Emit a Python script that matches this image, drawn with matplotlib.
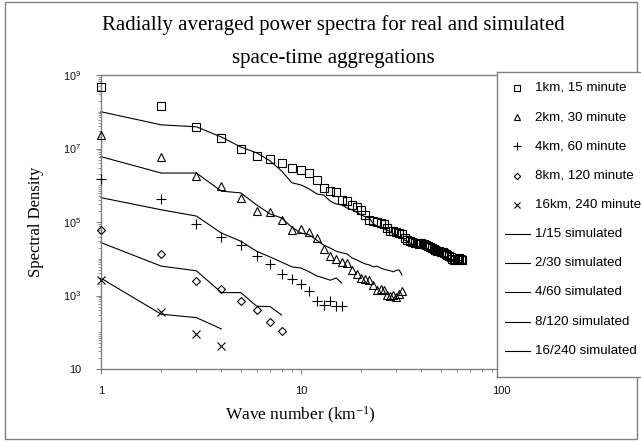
import matplotlib
matplotlib.use('Agg')
import matplotlib.pyplot as plt
from matplotlib.ticker import LogLocator, FixedLocator, FixedFormatter, NullFormatter
from matplotlib.patches import Rectangle

# ---------------- data ----------------
k_1km = list(range(1, 65))
k_2km = list(range(1, 33))
k_4km = list(range(1, 17))
k_8km = list(range(1, 9))
k_16km = list(range(1, 5))

real_1km = [4.7e8, 1.45e8, 3.9e7, 1.95e7, 1.0e7, 6.3e6, 5.1e6, 4.1e6, 2.95e6, 2.6e6,
            2.15e6, 1.38e6, 8.5e5, 6.9e5, 6.6e5, 4.0e5, 3.7e5, 2.9e5, 2.6e5, 2.15e5,
            1.55e5, 1.12e5, 1.07e5, 1.0e5, 9.3e4, 8.9e4, 6.9e4, 5.8e4, 5.8e4, 5.4e4,
            5.0e4, 4.8e4, 3.7e4, 3.2e4, 3.1e4, 2.9e4, 2.7e4, 2.7e4, 2.5e4, 2.7e4,
            2.5e4, 2.35e4, 2.25e4, 2.1e4, 1.95e4, 1.85e4, 1.75e4, 1.6e4, 1.6e4, 1.5e4,
            1.5e4, 1.45e4, 1.35e4, 1.25e4, 1.17e4, 1.12e4, 9.8e3, 9.3e3, 9.8e3, 9.3e3,
            9.8e3, 1.05e4, 1.0e4, 9.5e3]
sim_1km = [1.0e8, 4.4e7, 3.9e7, 2.05e7, 1.1e7, 7.6e6, 4.6e6, 2.45e6, 1.17e6, 1.02e6,
           7.9e5, 5.8e5, 5.4e5, 3.7e5, 3.1e5, 2.9e5, 2.4e5, 2.15e5, 1.85e5, 1.55e5,
           1.38e5, 1.29e5, 8.9e4, 7.8e4, 6.9e4, 6.5e4, 6.0e4, 5.4e4, 4.7e4, 4.5e4,
           3.9e4, 3.7e4, 3.2e4, 3.0e4, 2.7e4, 2.5e4, 2.35e4, 2.25e4, 2.1e4, 2.1e4,
           1.95e4, 1.85e4, 1.75e4, 1.6e4, 1.5e4, 1.5e4, 1.45e4, 1.35e4, 1.25e4, 1.25e4,
           1.17e4, 1.12e4, 1.12e4, 1.05e4, 1.0e4, 9.8e3, 9.5e3, 9.3e3, 9.3e3, 9.0e3,
           9.0e3, 9.0e3, 8.8e3, 8.6e3]

real_2km = [2.35e7, 5.9e6, 1.78e6, 9.5e5, 4.5e5, 2.0e5, 1.86e5, 1.12e5, 6.0e4, 6.5e4,
            5.4e4, 3.6e4, 1.86e4, 1.17e4, 9.8e3, 8.1e3, 7.6e3, 4.9e3, 3.9e3, 3.0e3,
            2.8e3, 2.6e3, 1.95e3, 1.41e3, 1.51e3, 1.41e3, 1.02e3, 9.8e2, 1.02e3, 9.1e2,
            1.1e3, 1.32e3]
sim_2km = [6.0e6, 2.15e6, 2.15e6, 6.9e5, 6.2e5, 2.9e5, 1.66e5, 1.29e5, 7.2e4, 5.0e4,
           4.5e4, 3.2e4, 2.35e4, 1.95e4, 1.6e4, 1.45e4, 1.35e4, 1.05e4, 9.3e3, 8.1e3,
           7.2e3, 6.8e3, 6.0e3, 6.3e3, 5.6e3, 5.2e3, 4.9e3, 4.7e3, 4.4e3, 4.9e3,
           4.9e3, 3.6e3]

real_4km = [1.48e6, 4.3e5, 9.1e4, 4.0e4, 2.3e4, 1.17e4, 7.1e3, 3.8e3, 2.8e3, 2.0e3,
            1.32e3, 7.2e2, 5.4e2, 7.2e2, 5.1e2, 5.1e2]
sim_4km = [4.6e5, 2.15e5, 1.45e5, 5.0e4, 3.0e4, 1.6e4, 1.12e4, 8.1e3, 6.0e3, 5.6e3,
           4.4e3, 3.4e3, 3.0e3, 2.6e3, 3.0e3, 2.2e3]

real_8km = [6.0e4, 1.35e4, 2.5e3, 1.48e3, 7.1e2, 4.1e2, 1.86e2, 1.07e2]
sim_8km = [2.75e4, 6.3e3, 4.7e3, 1.2e3, 1.2e3, 5.1e2, 5.0e2, 2.95e2]

real_16km = [2.6e3, 3.5e2, 87, 43]
sim_16km = [2.95e3, 3.1e2, 2.5e2, 1.23e2]

real_labels = ["1km, 15 minute", "2km, 30 minute", "4km, 60 minute",
               "8km, 120 minute", "16km, 240 minute"]
sim_labels = ["1/15 simulated", "2/30 simulated", "4/60 simulated",
              "8/120 simulated", "16/240 simulated"]

x_tick_vals = [1, 10, 100]
x_tick_labels = ["1", "10", "100"]
y_tick_vals = [10, 1e3, 1e5, 1e7, 1e9]
y_tick_labels = ["10", r"$\mathregular{10^{3}}$", r"$\mathregular{10^{5}}$",
                 r"$\mathregular{10^{7}}$", r"$\mathregular{10^{9}}$"]

title_lines = ["Radially averaged power spectra for real and simulated",
               "space-time aggregations"]
x_title = r"Wave number (km$\mathregular{^{-1}}$)"
y_title = "Spectral Density"

# ---------------- layout ----------------
W, H = 641, 441
fig = plt.figure(figsize=(W / 100, H / 100), dpi=100)
fig.patch.set_facecolor('white')


def fx(px):
    return px / W


def fy(py):
    return 1 - py / H


GRAY = '#808080'
SANS = 'Liberation Sans'
SERIF = 'Liberation Serif'

# chart border
fig.add_artist(Rectangle((fx(5), fy(439)), fx(637) - fx(5), fy(2) - fy(439),
                         transform=fig.transFigure, fill=False, ec=GRAY, lw=1.0,
                         zorder=1))

ax = fig.add_axes([fx(101), fy(369), fx(501) - fx(101), fy(75) - fy(369)])
ax.set_xscale('log')
ax.set_yscale('log')
ax.set_xlim(1, 100)
ax.set_ylim(10, 1e9)

markers = [('s', 5.2), ('^', 5.8), ('+', 6.5), ('D', 3.8), ('x', 5.5)]
ks = [k_1km, k_2km, k_4km, k_8km, k_16km]
reals = [real_1km, real_2km, real_4km, real_8km, real_16km]
sims = [sim_1km, sim_2km, sim_4km, sim_8km, sim_16km]

for k, v in zip(ks, sims):
    ax.plot(k, v, color='black', lw=0.8, clip_on=False, zorder=2)
for k, v, (m, ms) in zip(ks, reals, markers):
    ax.plot(k, v, ls='none', marker=m, ms=ms, mfc='none', mec='black', mew=0.8,
            clip_on=False, zorder=3)

ax.xaxis.set_major_locator(FixedLocator(x_tick_vals))
ax.xaxis.set_major_formatter(FixedFormatter(x_tick_labels))
ax.xaxis.set_minor_locator(LogLocator(base=10, subs=range(2, 10), numticks=10))
ax.xaxis.set_minor_formatter(NullFormatter())
ax.yaxis.set_major_locator(FixedLocator(y_tick_vals))
ax.yaxis.set_major_formatter(FixedFormatter(y_tick_labels))
ax.yaxis.set_minor_locator(LogLocator(base=10, subs=range(1, 10), numticks=20))
ax.yaxis.set_minor_formatter(NullFormatter())

ax.tick_params(which='major', direction='out', length=3.5, width=0.8, color=GRAY,
               labelcolor='#111111')
ax.tick_params(which='minor', direction='out', length=2.2, width=0.6, color=GRAY)
ax.tick_params(axis='x', which='major', labelsize=8, pad=9)
ax.tick_params(axis='y', which='major', labelsize=7.8, pad=10.5)
for lab in ax.get_xticklabels() + ax.get_yticklabels():
    lab.set_fontfamily(SANS)
for s in ax.spines.values():
    s.set_color(GRAY)
    s.set_linewidth(1.0)

# titles
fig.text(fx(333), fy(30), title_lines[0], ha='center', va='baseline',
         family=SERIF, fontsize=15)
fig.text(fx(333), fy(63), title_lines[1], ha='center', va='baseline',
         family=SERIF, fontsize=15)
fig.text(fx(300), fy(415), x_title, ha='center', va='center', family=SERIF,
         fontsize=12.5)
fig.text(fx(36), fy(222), y_title, ha='center', va='center', rotation=90,
         family=SERIF, fontsize=12)

# legend box
lg = fig.add_axes([fx(497), fy(377), fx(660) - fx(497), fy(72) - fy(377)])
lg.set_zorder(5)
lg.set_xlim(497, 660)
lg.set_ylim(377, 72)
lg.set_xticks([])
lg.set_yticks([])
lg.set_facecolor('white')
for s in lg.spines.values():
    s.set_color(GRAY)
    s.set_linewidth(1.0)

row0, pitch = 88, 29.2
for i, ((m, ms), lab) in enumerate(zip(markers, real_labels)):
    y = row0 + pitch * i
    lg.plot([517], [y], ls='none', marker=m, ms=ms * 0.85, mfc='none', mec='black',
            mew=0.8)
    lg.text(535, y, lab, va='center', ha='left', family=SANS, fontsize=9.6)
for j, lab in enumerate(sim_labels):
    y = row0 + pitch * (5 + j)
    lg.plot([505, 530], [y, y], color='black', lw=0.8)
    lg.text(535, y, lab, va='center', ha='left', family=SANS, fontsize=9.6)

fig.savefig('out.png', dpi=100)
